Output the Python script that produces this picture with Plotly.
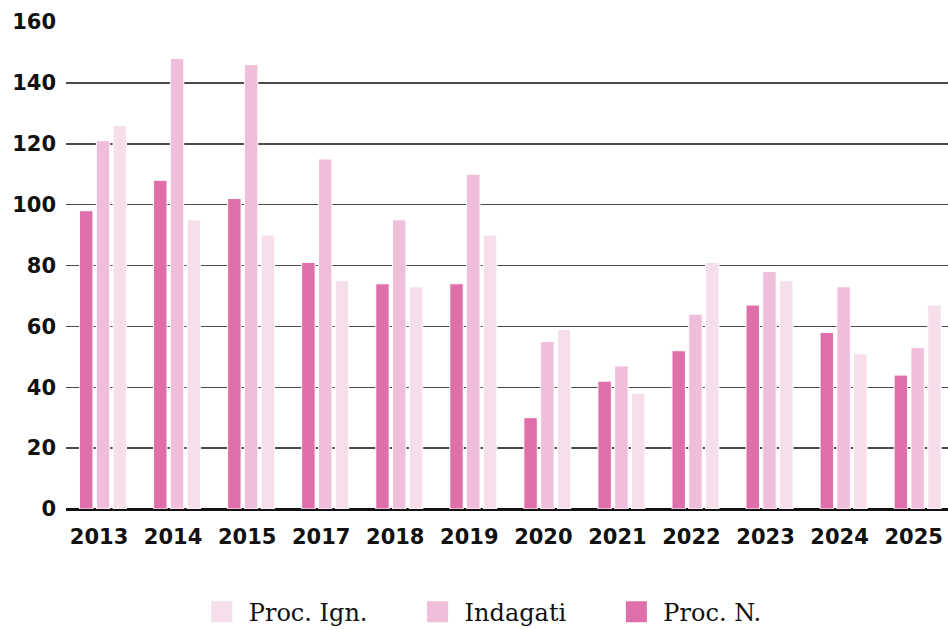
import plotly.graph_objects as go

years = ["2013", "2014", "2015", "2017", "2018", "2019", "2020", "2021", "2022", "2023", "2024", "2025"]
proc_n = [98, 108, 102, 81, 74, 74, 30, 42, 52, 67, 58, 44]
indagati = [121, 148, 146, 115, 95, 110, 55, 47, 64, 78, 73, 53]
proc_ign = [126, 95, 90, 75, 73, 90, 59, 38, 81, 75, 51, 67]

series_names = ["Proc. N.", "Indagati", "Proc. Ign."]
series_values = [proc_n, indagati, proc_ign]
colors = ["#DE6FA8", "#F0BDDA", "#F6DEEB"]

fig = go.Figure()
for name, vals, col in zip(series_names, series_values, colors):
    fig.add_trace(go.Bar(
        x=years, y=vals, name=name, showlegend=False,
        marker=dict(color=col, line=dict(color="white", width=1)),
    ))

# legend proxies (reverse order as in reference)
for name, col in zip(reversed(series_names), reversed(colors)):
    fig.add_trace(go.Scatter(
        x=[None], y=[None], mode="markers", name=name + "\u00a0" * 5,
        marker=dict(symbol="square", size=16, color=col, line=dict(color=col, width=5)),
        showlegend=True,
    ))

fig.update_layout(
    width=948, height=629,
    margin=dict(l=66, r=0, t=22, b=119.5, autoexpand=False),
    paper_bgcolor="white", plot_bgcolor="white",
    barmode="group", bargap=0.32, bargroupgap=0.2,
    showlegend=True,
    legend=dict(
        orientation="h", x=0.146, xanchor="left", y=-0.212, yanchor="middle",
        font=dict(family="DejaVu Serif", size=24, color="#111"),
        itemwidth=44, bgcolor="rgba(0,0,0,0)",
    ),
    font=dict(family="DejaVu Sans", color="#111"),
)
fig.update_xaxes(
    type="category", range=[-0.5, 11.41],
    showgrid=False, showline=True, linecolor="#111", linewidth=1.5,
    tickfont=dict(family="DejaVu Sans", size=21, weight=700, color="#111"),
    ticks="", ticklabelstandoff=8, ticklabelshift=-4, fixedrange=True,
)
fig.update_yaxes(
    range=[0, 160], dtick=20, tick0=0,
    showgrid=True, gridcolor="#4a4a4a", gridwidth=1.5,
    zeroline=True, zerolinecolor="#111", zerolinewidth=1.5,
    showline=False,
    tickfont=dict(family="DejaVu Sans", size=21, weight=700, color="#111"),
    ticks="", ticklabelstandoff=9, fixedrange=True,
)

fig.write_html(
    "out.html",
    config={"displayModeBar": False, "staticPlot": True},
    post_script="document.body.style.margin='0';document.body.style.overflow='hidden';",
)
